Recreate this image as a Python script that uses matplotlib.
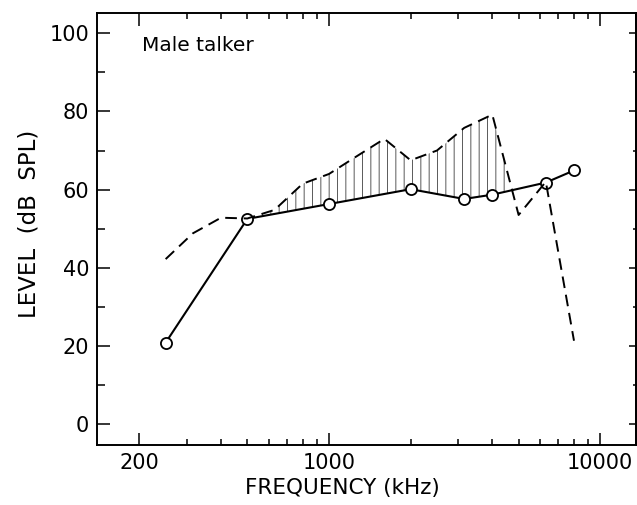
import numpy as np
import matplotlib.pyplot as plt
from matplotlib.ticker import FixedLocator, NullFormatter

plt.rcParams['font.family'] = ['DejaVu Sans']
plt.rcParams['hatch.linewidth'] = 0.7
plt.rcParams['hatch.color'] = '0.35'

# measured long-term spectrum (dashed), third-octave bands
band_freqs = [250, 315, 400, 500, 630, 800, 1000, 1250, 1600, 2000,
              2500, 3150, 4000, 5000, 6300, 8000]
speech_level = [42.2, 48.8, 52.8, 52.6, 54.8, 61.5, 64.0, 68.3, 73.0, 67.5,
                70.0, 75.8, 79.2, 53.5, 62.0, 21.3]

# threshold points (solid line with circles)
thr_freqs = [250, 500, 1000, 2000, 3150, 4000, 6300, 8000]
thr_level = [20.8, 52.5, 56.3, 60.1, 57.6, 58.7, 61.8, 64.9]

x_major = [200, 1000, 10000]
x_minor = [300, 400, 500, 600, 700, 800, 900,
           2000, 3000, 4000, 5000, 6000, 7000, 8000, 9000]
y_major = [0, 20, 40, 60, 80, 100]
y_minor = [10, 30, 50, 70, 90]

fig = plt.figure(figsize=(6.37, 5.05), dpi=100)
ax = fig.add_axes([0.1528, 0.1188, 0.8456, 0.8561])
ax.set_xscale('log')

# hatched area where speech is above the threshold line (from 500 Hz up)
bf = np.array(band_freqs)
sl = np.array(speech_level)
thr_on_bands = np.interp(np.log10(bf), np.log10(thr_freqs), thr_level)
ax.fill_between(bf, thr_on_bands, sl,
                where=(sl > thr_on_bands) & (bf >= 500), interpolate=True,
                facecolor='none', edgecolor='0.35', hatch='||', linewidth=0, zorder=1)

ax.plot(thr_freqs, thr_level, color='black', lw=1.5, marker='o', markersize=8,
        markerfacecolor='white', markeredgecolor='black', markeredgewidth=1.3, zorder=3)
ax.plot(band_freqs, speech_level, color='black', lw=1.4, linestyle=(0, (6, 3.5)), zorder=4)

ax.set_xlim(140, 13540)
ax.set_ylim(-5.4, 105.3)

ax.xaxis.set_major_locator(FixedLocator(x_major))
ax.xaxis.set_minor_locator(FixedLocator(x_minor))
ax.set_xticklabels([str(v) for v in x_major])
ax.xaxis.set_minor_formatter(NullFormatter())
ax.yaxis.set_major_locator(FixedLocator(y_major))
ax.yaxis.set_minor_locator(FixedLocator(y_minor))

ax.tick_params(axis='x', which='major', direction='in', length=9, width=1.1,
               top=True, bottom=True, labelsize=15, pad=6)
ax.tick_params(axis='x', which='minor', direction='in', length=4.5, width=1.1,
               top=True, bottom=True)
ax.tick_params(axis='y', which='major', direction='in', length=9.5, width=1.1,
               left=True, right=False, labelsize=15, pad=6)
ax.tick_params(axis='y', which='minor', direction='in', length=6, width=1.1,
               left=True, right=False)

# right side has shorter ticks
sec = ax.secondary_yaxis('right')
sec.yaxis.set_major_locator(FixedLocator(y_major))
sec.yaxis.set_minor_locator(FixedLocator(y_minor))
sec.tick_params(which='major', direction='in', length=5, width=1.1, labelright=False)
sec.tick_params(which='minor', direction='in', length=2, width=1.1)
sec.spines['right'].set_linewidth(1.4)

for s in ax.spines.values():
    s.set_linewidth(1.4)

# axis titles placed as figure text
fig.text(0.537, 0.034, 'FREQUENCY (kHz)', fontsize=15.5, ha='center', va='center')
fig.text(0.045, 0.557, 'LEVEL  (dB  SPL)', fontsize=16.5, ha='center', va='center',
         rotation=90)

ax.text(0.083, 0.923, 'Male talker', transform=ax.transAxes, fontsize=14.5,
        ha='left', va='center')

fig.savefig('out.png', dpi=100)
